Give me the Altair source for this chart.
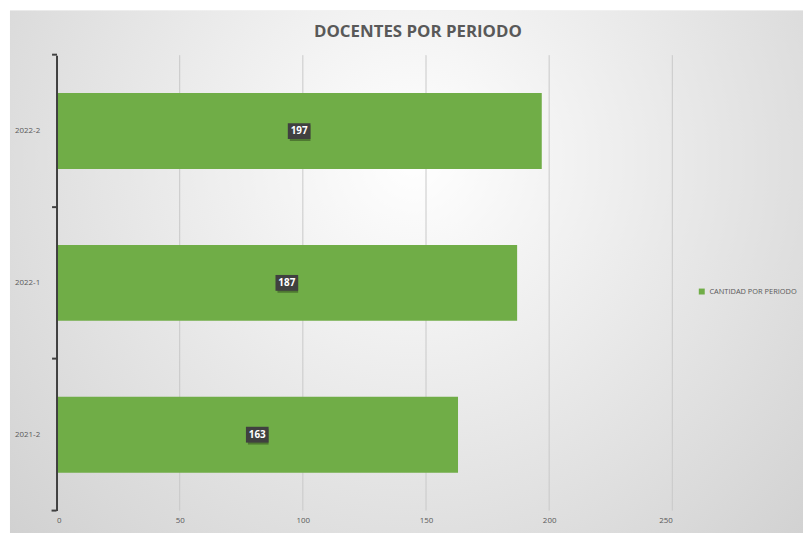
import altair as alt
import pandas as pd

periodos = ["2022-2", "2022-1", "2021-2"]
cantidades = [197, 187, 163]
serie = "CANTIDAD POR PERIODO"
titulo = "DOCENTES POR PERIODO"
x_ticks = [0, 50, 100, 150, 200, 250]
grid_vals = [50, 100, 150, 200, 250]

df = pd.DataFrame({"periodo": periodos, "cantidad": cantidades, "serie": [serie] * 3})
grid_df = pd.DataFrame({"g": grid_vals})

W, H = 622, 460
FONT = "Open Sans"
GRAY = "#595959"

x_scale = alt.Scale(domain=[0, 250], nice=False)
x_axis = alt.Axis(values=x_ticks, grid=False, domain=False, ticks=False,
                  labelFontSize=8, labelColor=GRAY, labelFont=FONT,
                  labelPadding=6, zindex=1)
y_scale = alt.Scale(paddingInner=0.5, paddingOuter=0.25)
y_enc = alt.Y("periodo:N", sort=periodos, title=None, scale=y_scale,
              axis=alt.Axis(labelFontSize=8, labelColor=GRAY, labelFont=FONT,
                            domainColor="#404040", domainWidth=2, tickColor="#404040",
                            tickWidth=2, tickSize=5, bandPosition=-0.5, labelPadding=12,
                            zindex=1))

bg = alt.Chart(pd.DataFrame({"a": [0]})).mark_rect(
    fill=alt.Gradient(gradient="radial", x1=0.5, y1=0.35, r1=0, x2=0.5, y2=0.35, r2=0.8,
                      stops=[alt.GradientStop(color="#ffffff", offset=0),
                             alt.GradientStop(color="#c9c9c9", offset=1)]),
    clip=False
).encode(x=alt.value(-47), x2=alt.value(770), y=alt.value(-45), y2=alt.value(500))

title_txt = alt.Chart(pd.DataFrame({"t": [titulo]})).mark_text(
    fontSize=17, fontWeight="bold", color=GRAY, font=FONT, align="center", baseline="middle"
).encode(x=alt.value(365), y=alt.value(-23), text="t:N")

grid = alt.Chart(grid_df).mark_rule(color="#c8c8c8", strokeWidth=1).encode(
    x=alt.X("g:Q", scale=x_scale, axis=x_axis, title=None)
)

bars = alt.Chart(df).mark_bar(size=76.7).encode(
    x=alt.X("cantidad:Q", scale=x_scale, axis=x_axis, title=None), y=y_enc,
    color=alt.Color("serie:N", scale=alt.Scale(range=["#70ad47"]),
                    legend=alt.Legend(title=None, orient="none", legendX=648, legendY=235,
                                      symbolType="square", symbolSize=36,
                                      labelFontSize=7.5, labelColor=GRAY, labelFont=FONT,
                                      symbolStrokeWidth=0, labelOffset=4))
)

base = alt.Chart(df).transform_calculate(
    mid="datum.cantidad / 2",
    lo="datum.cantidad / 2 - 4.6",
    hi="datum.cantidad / 2 + 4.6",
)
shadow = base.mark_bar(size=16, color="#000000", opacity=0.3, xOffset=2, yOffset=2).encode(
    x=alt.X("lo:Q"), x2="hi:Q", y=alt.Y("periodo:N", sort=periodos))
box = base.mark_bar(size=16, color="#404040", opacity=1).encode(
    x=alt.X("lo:Q"), x2="hi:Q", y=alt.Y("periodo:N", sort=periodos))
txt = base.mark_text(color="white", fontWeight="bold", fontSize=10, font=FONT).encode(
    x=alt.X("mid:Q"), y=alt.Y("periodo:N", sort=periodos), text="cantidad:Q")

bottom_tick = alt.Chart(pd.DataFrame({"a": [0]})).mark_rule(color="#404040", strokeWidth=2).encode(
    x=alt.value(-5), x2=alt.value(0), y=alt.value(H))

chart = alt.layer(bg, title_txt, grid, bars, shadow, box, txt, bottom_tick).properties(
    width=W, height=H,
    padding={"left": 49, "right": 132, "top": 45, "bottom": 20},
    autosize=alt.AutoSizeParams(type="none"),
).configure_view(stroke=None).configure(background="white")

chart.save("out.html", embed_options={"renderer": "svg", "actions": False})
